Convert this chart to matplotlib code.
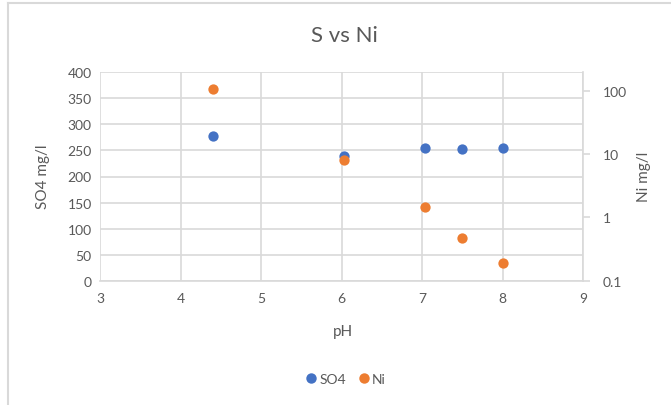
import matplotlib
matplotlib.use("Agg")
import matplotlib.pyplot as plt
from matplotlib.lines import Line2D
import numpy as np

plt.rcParams['font.family'] = ['Lato', 'DejaVu Sans']

ph = [4.4, 6.03, 7.03, 7.5, 8.0]
so4 = [278, 240, 254, 253, 254]
ni = [106, 8.0, 1.47, 0.47, 0.19]

x_ticks = [3, 4, 5, 6, 7, 8, 9]
left_ticks = [0, 50, 100, 150, 200, 250, 300, 350, 400]
right_ticks = [0.1, 1, 10, 100]
right_labels = ["0.1", "1", "10", "100"]

BLUE = "#4472C4"
ORANGE = "#ED7D31"
TXT = "#595959"
GRID = "#D9D9D9"

fig = plt.figure(figsize=(6.71, 4.06), dpi=100)
ax = fig.add_axes([100/671, 1-281.7/406, (583.3-100)/671, (281.7-73.3)/406])
ax2 = ax.twinx()

ax.scatter(ph, so4, s=55, color=BLUE, zorder=3, linewidths=0)
ax2.scatter(ph, ni, s=55, color=ORANGE, zorder=3, linewidths=0)

ax.set_xlim(3, 9)
ax.set_ylim(0, 400)
ax.set_xticks(x_ticks)
ax.set_yticks(left_ticks)
ax.grid(True, color=GRID, lw=1.2)
ax.set_axisbelow(True)
ax.tick_params(axis='both', length=0, labelsize=10, labelcolor=TXT, pad=6)
ax.tick_params(axis='x', pad=8)
for s in ['left', 'top', 'right']:
    ax.spines[s].set_visible(False)
ax.spines['bottom'].set_color(GRID)
ax.spines['bottom'].set_linewidth(1.2)

ax2.set_yscale('log')
ax2.set_ylim(0.1, 10**2.29)
ax2.set_yticks(right_ticks)
ax2.set_yticklabels(right_labels)
ax2.yaxis.set_minor_locator(matplotlib.ticker.NullLocator())
ax2.tick_params(axis='y', length=5, color=GRID, width=1.2, labelsize=10, labelcolor=TXT, pad=9)
for s in ['left', 'top', 'bottom']:
    ax2.spines[s].set_visible(False)
ax2.spines['right'].set_color(GRID)
ax2.spines['right'].set_linewidth(1.2)

fig.text(344/671, 1-36/406, "S vs Ni", ha='center', va='center', fontsize=16, color=TXT)
fig.text(343/671, 1-332/406, "pH", ha='center', va='center', fontsize=11, color=TXT)
fig.text(43/671, 1-177/406, "SO4 mg/l", ha='center', va='center', fontsize=11, color=TXT, rotation=90)
fig.text(644/671, 1-177/406, "Ni mg/l", ha='center', va='center', fontsize=11, color=TXT, rotation=90)

handles = [Line2D([], [], marker='o', ls='', color=BLUE, markersize=7.5, markeredgewidth=0),
           Line2D([], [], marker='o', ls='', color=ORANGE, markersize=7.5, markeredgewidth=0)]
leg = fig.legend(handles, ["SO4", "Ni"], loc='center', bbox_to_anchor=(345/671, 1-380/406),
                 ncol=2, frameon=False, fontsize=10, handletextpad=0.1, columnspacing=0.8,
                 handlelength=1.0)
for t in leg.get_texts():
    t.set_color(TXT)

fig.add_artist(Line2D([7.5/671, 7.5/671], [0, 1-3.5/406], transform=fig.transFigure, color=GRID, lw=1.5))
fig.add_artist(Line2D([7.5/671, 1], [1-3.5/406, 1-3.5/406], transform=fig.transFigure, color=GRID, lw=1.5))

fig.savefig("out.png", dpi=100)
